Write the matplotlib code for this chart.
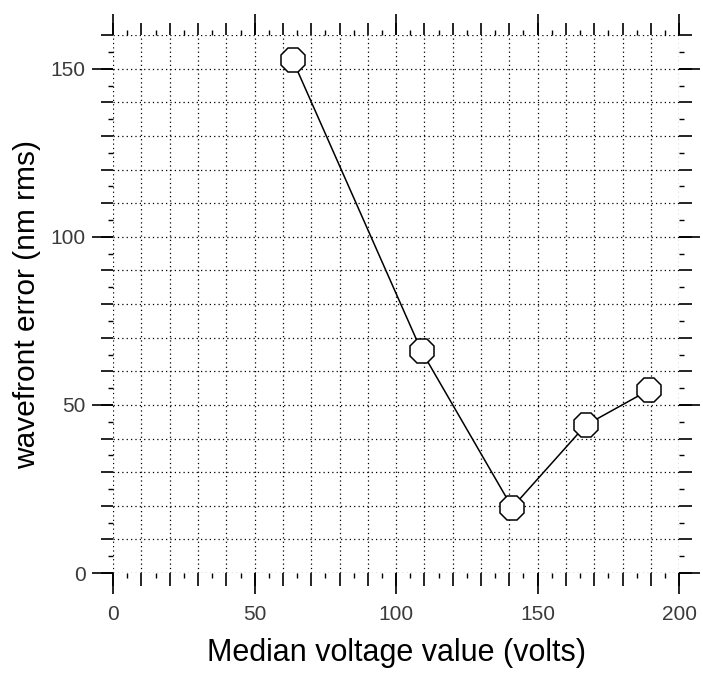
import numpy as np
import matplotlib
matplotlib.use('Agg')
import matplotlib.pyplot as plt
from matplotlib.ticker import MultipleLocator, FuncFormatter

plt.rcParams['font.family'] = ['Liberation Sans', 'DejaVu Sans']

# datos
voltage = [63.5, 109, 141, 167, 189.5]
wf_error = [152.5, 66, 19.5, 44, 54.5]

x_labels = [0, 50, 100, 150, 200]
y_labels = [0, 50, 100, 150]

fig = plt.figure(figsize=(7.03, 6.75), dpi=100)
ax = fig.add_axes([0.161, 0.151, 0.805, 0.797])

ax.plot(voltage, wf_error, color='black', lw=1.1, marker='8', ms=18.5,
        mfc='white', mec='black', mew=1.1, zorder=5)

ax.set_xlim(0, 200)
ax.set_ylim(0, 160)

#ticks cada 10 (medianos), cada 5 (pequeños)
fmt = FuncFormatter(lambda v, p: f"{v:.0f}" if round(v) % 50 == 0 else "")
ax.xaxis.set_major_locator(MultipleLocator(10))
ax.yaxis.set_major_locator(MultipleLocator(10))
ax.xaxis.set_minor_locator(MultipleLocator(5))
ax.yaxis.set_minor_locator(MultipleLocator(5))
ax.xaxis.set_major_formatter(fmt)
ax.yaxis.set_major_formatter(fmt)

ax.tick_params(which='major', direction='out', length=9, width=1.2,
               top=True, right=True, labelsize=15, labelcolor='#3a3a3a')
ax.tick_params(axis='x', which='major', pad=14)
ax.tick_params(axis='y', which='major', pad=11)
ax.tick_params(which='minor', direction='out', length=3.6, width=1.0,
               top=True, right=True)

for s in ax.spines.values():
    s.set_visible(False)

ax.grid(True, which='major', color='black', lw=0.9, linestyle=(0, (1, 2.5)))

#ticks largos cada 50
for side in ['bottom', 'top']:
    sec = ax.secondary_xaxis(side)
    sec.set_xticks(x_labels)
    sec.set_xticklabels([])
    sec.tick_params(direction='out', length=15, width=1.2)
    sec.spines[side].set_visible(False)
for side in ['left', 'right']:
    sec = ax.secondary_yaxis(side)
    sec.set_yticks(y_labels)
    sec.set_yticklabels([])
    sec.tick_params(direction='out', length=15, width=1.2)
    sec.spines[side].set_visible(False)

ax.set_xlabel('Median voltage value (volts)', fontsize=22, labelpad=10)
ax.set_ylabel('wavefront error (nm rms)', fontsize=21.5, labelpad=7)

fig.savefig('out.png', dpi=100)
